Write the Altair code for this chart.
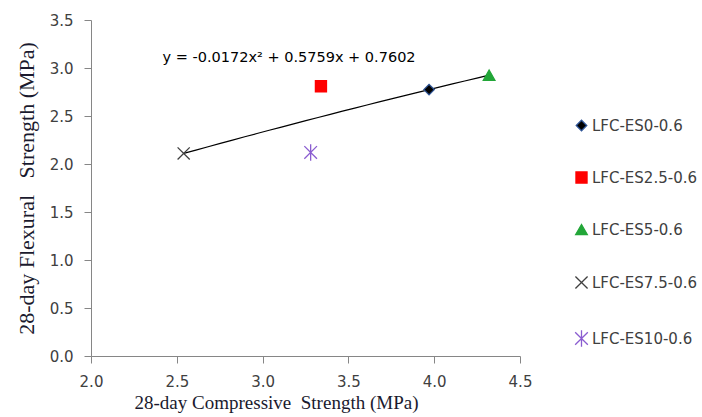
import altair as alt
import pandas as pd

series = ["LFC-ES0-0.6", "LFC-ES2.5-0.6", "LFC-ES5-0.6", "LFC-ES7.5-0.6", "LFC-ES10-0.6"]
compressive = [3.97, 3.34, 4.32, 2.54, 3.28]
flexural = [2.775, 2.81, 2.925, 2.11, 2.12]
trend_series = ["LFC-ES0-0.6", "LFC-ES5-0.6", "LFC-ES7.5-0.6"]

equation = ["y = -0.0172x\u00b2 + 0.5759x + 0.7602"]
eq_x = [3.154]
eq_y = [3.10]

x_ticks = [2.0, 2.5, 3.0, 3.5, 4.0, 4.5]
y_ticks = [0.0, 0.5, 1.0, 1.5, 2.0, 2.5, 3.0, 3.5]

shapes = ["diamond", "square", "triangle-up",
          "M-1,-1L1,1M-1,1L1,-1",
          "M-1,-1L1,1M-1,1L1,-1M0,-1.3L0,1.3"]
fills = ["#000000", "#FF0000", "#22A638", "transparent", "transparent"]
strokes = ["#2F5597", "#FF0000", "#22A638", "#404040", "#8A5CD0"]
sizes = [110, 160, 170, 110, 110]

df = pd.DataFrame({"series": series, "x": compressive, "y": flexural})
eq_df = pd.DataFrame({"text": equation, "x": eq_x, "y": eq_y})

xscale = alt.Scale(domain=[2.0, 4.5], nice=False, zero=False)
yscale = alt.Scale(domain=[0.0, 3.5], nice=False, zero=False)

axis_common = dict(
    grid=False,
    domainColor="#868686",
    tickColor="#868686",
    tickSize=7,
    labelFont="DejaVu Sans",
    labelFontSize=15,
    labelColor="#404040",
    labelFlush=False,
    titleFont="Liberation Serif",
    titleFontWeight="normal",
    titleColor="#1A1A2E",
)

x_enc = alt.X("x:Q", scale=xscale,
              axis=alt.Axis(values=x_ticks, format=".1f",
                            title="28-day Compressive\u00a0\u00a0Strength (MPa)",
                            titleFontSize=19, titleX=185,
                            labelPadding=11, titlePadding=4, **axis_common))
y_enc = alt.Y("y:Q", scale=yscale,
              axis=alt.Axis(values=y_ticks, format=".1f",
                            title="28-day Flexural\u00a0\u00a0\u00a0Strength (MPa)",
                            titleFontSize=22, titleY=168,
                            labelPadding=11, titlePadding=11, **axis_common))

trend = alt.Chart(df).transform_filter(
    alt.FieldOneOfPredicate(field="series", oneOf=trend_series)
).transform_regression("x", "y", method="poly", order=2).mark_line(
    color="#000000", strokeWidth=1.2
).encode(x=x_enc, y=y_enc)

points = alt.Chart(df).mark_point(filled=False, opacity=1, strokeWidth=1.3).encode(
    x=x_enc,
    y=y_enc,
    shape=alt.Shape("series:N", scale=alt.Scale(domain=series, range=shapes)),
    fill=alt.Fill("series:N", scale=alt.Scale(domain=series, range=fills)),
    stroke=alt.Stroke("series:N", scale=alt.Scale(domain=series, range=strokes)),
    size=alt.Size("series:N", scale=alt.Scale(domain=series, range=sizes)),
)

eq_text = alt.Chart(eq_df).mark_text(
    font="DejaVu Sans", fontSize=14.5, color="#000000", align="center", baseline="middle"
).encode(x=alt.X("x:Q", scale=xscale), y=alt.Y("y:Q", scale=yscale), text="text:N")

chart = alt.layer(trend, points, eq_text).properties(
    width=429, height=336,
    autosize=alt.AutoSizeParams(type="none"),
    padding={"left": 91, "top": 20, "right": 182, "bottom": 61},
).configure_view(stroke=None).configure_legend(
    orient="none", legendX=483, legendY=98,
    title=None,
    labelFont="DejaVu Sans", labelFontSize=15, labelColor="#404040",
    rowPadding=35, symbolStrokeWidth=1.3, labelOffset=3,
)

chart.save("out.html", embed_options={"renderer": "svg", "actions": False})
